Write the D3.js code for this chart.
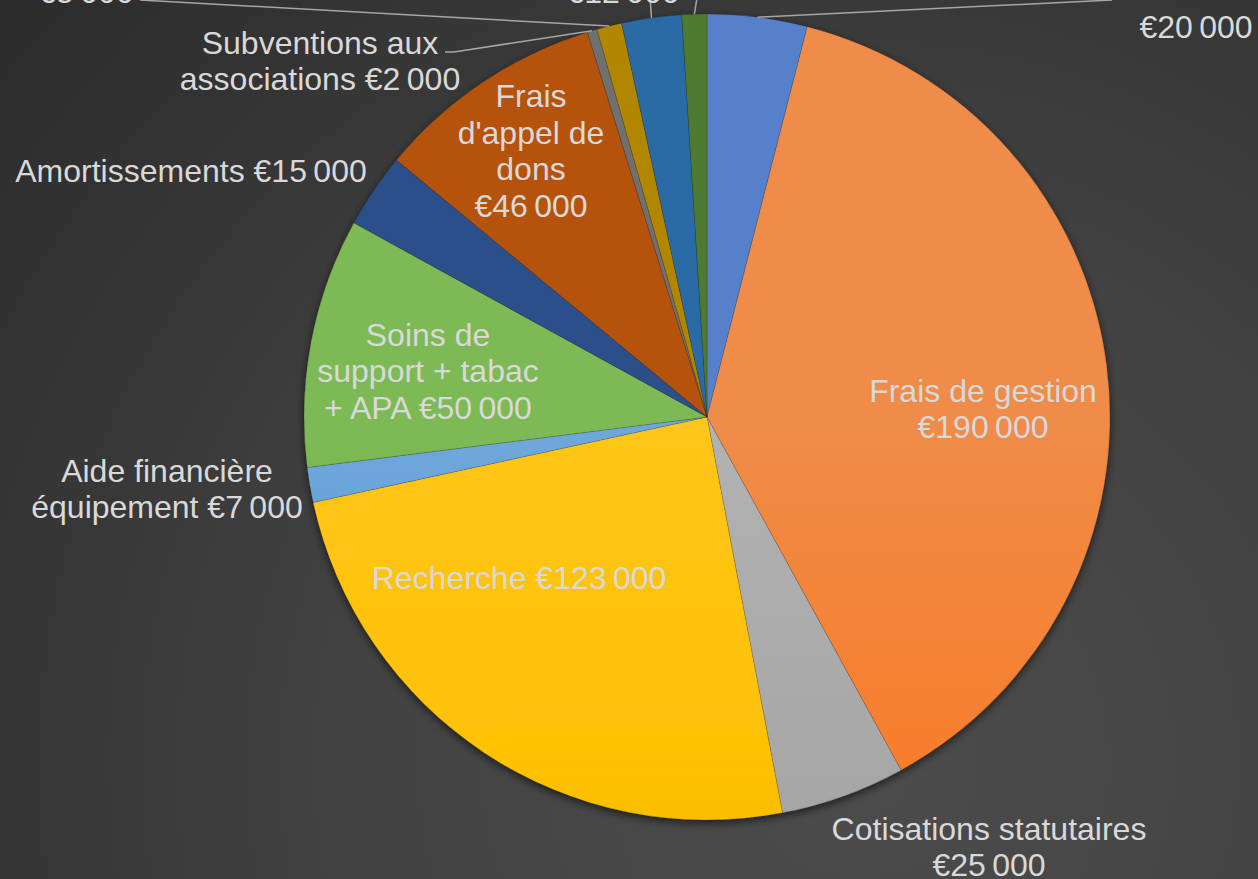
<!DOCTYPE html>
<html>
<head>
<meta charset="utf-8">
<script src="https://cdn.jsdelivr.net/npm/d3@7"></script>
<style>
body { margin: 0; background: #333; }
svg { display: block; font-family: "Liberation Sans", Arial, sans-serif; }
</style>
</head>
<body>
<svg width="1258" height="879"></svg>
<script>
// Data (names of the top slices are cut off in the source picture)
var categories = ['', 'Frais de gestion', 'Cotisations statutaires', 'Recherche',
    'Aide financière équipement', 'Soins de support + tabac + APA', 'Amortissements',
    "Frais d'appel de dons", 'Subventions aux associations', '', '', ''];
var amounts = [20000, 190000, 25000, 123000, 7000, 50000, 15000, 46000, 2000, 5000, 12000, 5000];
var palette = ['#4472C4', '#ED7D31', '#A5A5A5', '#FFC000', '#5B9BD5', '#70AD47',
    '#264478', '#9E480E', '#636363', '#997300', '#255E91', '#43682B'];

// Label layout: block centre, wrap width, leader line end points
var labelSpots = [[1196, 27], [983, 409], [989, 847], [519, 578], [167, 489], [428, 371],
    [191, 171], [531, 151], [320, 61], [86, -8], [623, -8], [700, -60]];
var wrapWidths = [400, 240, 340, 440, 290, 232, 440, 156, 300, 200, 200, 200];
var leaders = [[[1112, 0]], null, null, null, null, null, null, null,
    [[454, 52], [445, 52]], [[140, 0]], [[650, -2]], [[697, -2]]];

var svg = d3.select('svg');
var width = +svg.attr('width'), height = +svg.attr('height');
var cx = 707, cy = 417, radius = 403;
var fontSize = 32, lineH = 36.5;

var locale = d3.formatLocale({ decimal: ',', thousands: '\u202F', grouping: [3], currency: ['€', ''] });
var fmt = locale.format('$,.0f');

var defs = svg.append('defs');

// background
var bg = defs.append('radialGradient').attr('id', 'bg')
    .attr('gradientUnits', 'userSpaceOnUse')
    .attr('cx', 860).attr('cy', 760).attr('r', 1150);
bg.append('stop').attr('offset', 0).attr('stop-color', '#4c4c4c');
bg.append('stop').attr('offset', 0.45).attr('stop-color', '#424242');
bg.append('stop').attr('offset', 1).attr('stop-color', '#2b2b2b');
svg.append('rect').attr('width', width).attr('height', height).attr('fill', 'url(#bg)');

var shadow = defs.append('filter').attr('id', 'shadow')
    .attr('x', '-10%').attr('y', '-10%').attr('width', '120%').attr('height', '120%');
shadow.append('feDropShadow').attr('dx', 0).attr('dy', 3).attr('stdDeviation', 4)
    .attr('flood-color', '#000').attr('flood-opacity', 0.6);

// one vertical gradient per slice, lighter on top, darker and richer at the bottom
function shade(c, dl, ks) {
    var h = d3.hsl(c);
    h.l = h.l + dl;
    h.s = Math.min(1, h.s * ks);
    return h.formatHex();
}
palette.forEach(function(c, i) {
    var g = defs.append('linearGradient').attr('id', 'g' + i)
        .attr('gradientUnits', 'userSpaceOnUse')
        .attr('x1', 0).attr('x2', 0).attr('y1', cy - radius).attr('y2', cy + radius);
    g.append('stop').attr('offset', 0).attr('stop-color', shade(c, 0.05, 1));
    g.append('stop').attr('offset', 0.4).attr('stop-color', shade(c, 0.01, 1.1));
    g.append('stop').attr('offset', 1).attr('stop-color', shade(c, -0.055, 1.1));
});

var pie = d3.pie().sort(null).value(function(d) { return d; });
var arcs = pie(amounts);
var arc = d3.arc().innerRadius(0).outerRadius(radius);
var rim = d3.arc().innerRadius(radius).outerRadius(radius);

var pieG = svg.append('g')
    .attr('transform', 'translate(' + [cx, cy] + ')')
    .attr('filter', 'url(#shadow)');

pieG.selectAll('path')
    .data(arcs)
    .enter().append('path')
    .attr('d', arc)
    .attr('fill', function(d, i) { return 'url(#g' + i + ')'; })
    .attr('stroke', 'rgba(0,0,0,0.18)')
    .attr('stroke-width', 0.8);

// leader lines
var lineG = svg.append('g');
arcs.forEach(function(d, i) {
    if (!leaders[i]) return;
    var p = rim.centroid(d);
    var pts = [[cx + p[0], cy + p[1]]].concat(leaders[i]);
    lineG.append('path')
        .attr('d', d3.line()(pts))
        .attr('fill', 'none')
        .attr('stroke', '#a6a6a6')
        .attr('stroke-width', 1.5);
});

// labels
var labelG = svg.append('g')
    .attr('font-size', fontSize)
    .attr('fill', '#d9d9d9')
    .attr('text-anchor', 'middle');

arcs.forEach(function(d, i) {
    var full = (categories[i] ? categories[i] + ' ' : '') + fmt(amounts[i]);
    var words = full.split(' ');
    var text = labelG.append('text');
    // measure words to wrap like the source
    var lines = [], cur = '';
    words.forEach(function(w) {
        var test = cur ? cur + ' ' + w : w;
        text.text(test);
        if (cur && text.node().getComputedTextLength() > wrapWidths[i]) {
            lines.push(cur);
            cur = w;
        } else {
            cur = test;
        }
    });
    lines.push(cur);
    text.text(null);
    var y0 = labelSpots[i][1] - (lines.length - 1) * lineH / 2;
    lines.forEach(function(l, k) {
        text.append('tspan')
            .attr('x', labelSpots[i][0])
            .attr('y', y0 + k * lineH)
            .attr('dy', '0.35em')
            .text(l);
    });
});
</script>
</body>
</html>
